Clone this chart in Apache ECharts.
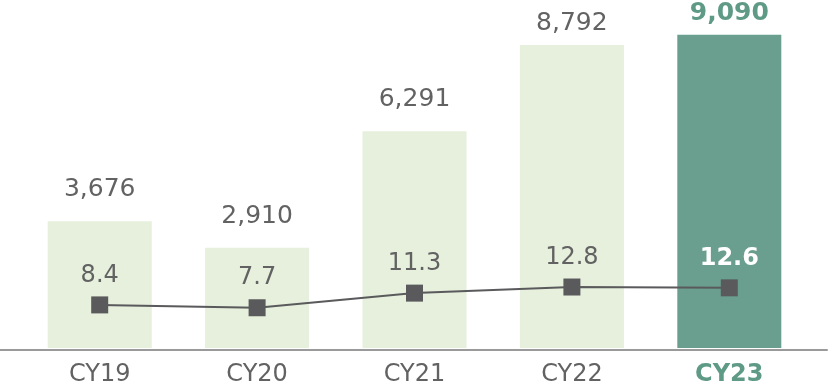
<!DOCTYPE html>
<html><head><meta charset="utf-8">
<script src="https://cdn.jsdelivr.net/npm/echarts@6/dist/echarts.min.js"></script>
<style>html,body{margin:0;padding:0;background:#fff}#c{width:828px;height:387px}</style>
</head><body><div id="c"></div>
<script>
const categories = ['CY19','CY20','CY21','CY22','CY23'];
const barValues = [3676, 2910, 6291, 8792, 9090];
const lineValues = [8.4, 7.7, 11.3, 12.8, 12.6];
const highlightIndex = 4;

const FONT = 'DejaVu Sans';
const GRAY = '#626262';
const TEAL = '#5e9a86';
const LIGHT = '#e6f0dd';
const DARK = '#6a9e8f';

const chart = echarts.init(document.getElementById('c'), null, {renderer:'canvas'});
const fmt = v => v.toLocaleString('en-US');

chart.setOption({
  animation: false,
  grid: [
    {left: 21, right: 20, top: 0, bottom: 37},
    {left: 0, right: 1, top: 0, bottom: 37}
  ],
  xAxis: [
    {
      type: 'category', gridIndex: 0,
      data: categories.map((c, i) => i === highlightIndex
        ? {value: c, textStyle: {color: TEAL, fontWeight: 'bold'}}
        : c),
      axisLine: {show: false}, axisTick: {show: false},
      axisLabel: {color: GRAY, fontFamily: FONT, fontSize: 24, margin: 15}
    },
    {
      type: 'value', gridIndex: 1, min: 0, max: 1,
      axisLine: {show: true, lineStyle: {color: '#9a9a9a', width: 2}},
      axisTick: {show: false}, axisLabel: {show: false}, splitLine: {show: false}
    }
  ],
  yAxis: [
    {type: 'value', gridIndex: 0, min: 0, max: 10100, show: false},
    {type: 'value', gridIndex: 0, min: -2.2, max: 83.4, show: false},
    {type: 'value', gridIndex: 1, show: false}
  ],
  series: [
    {
      type: 'bar', xAxisIndex: 0, yAxisIndex: 0, barWidth: 104,
      data: barValues.map((v, i) => ({
        value: v,
        itemStyle: {color: i === highlightIndex ? DARK : LIGHT},
        label: Object.assign(
          v > 8000 ? {distance: 9} : {},
          i === highlightIndex ? {color: TEAL, fontWeight: 'bold'} : {})
      })),
      label: {
        show: true, position: 'top', distance: 19,
        formatter: p => fmt(p.value),
        color: GRAY, fontFamily: FONT, fontSize: 25
      }
    },
    {
      type: 'line', xAxisIndex: 0, yAxisIndex: 1,
      data: lineValues.map((v, i) => ({
        value: v,
        label: i === highlightIndex ? {color: '#ffffff', fontWeight: 'bold'} : {}
      })),
      symbol: 'rect', symbolSize: 17,
      lineStyle: {color: '#5a5a5c', width: 2},
      itemStyle: {color: '#5a5a5c'},
      label: {
        show: true, position: 'top', distance: 9,
        formatter: p => p.value.toFixed(1),
        color: GRAY, fontFamily: FONT, fontSize: 24
      }
    }
  ]
});
</script></body></html>
